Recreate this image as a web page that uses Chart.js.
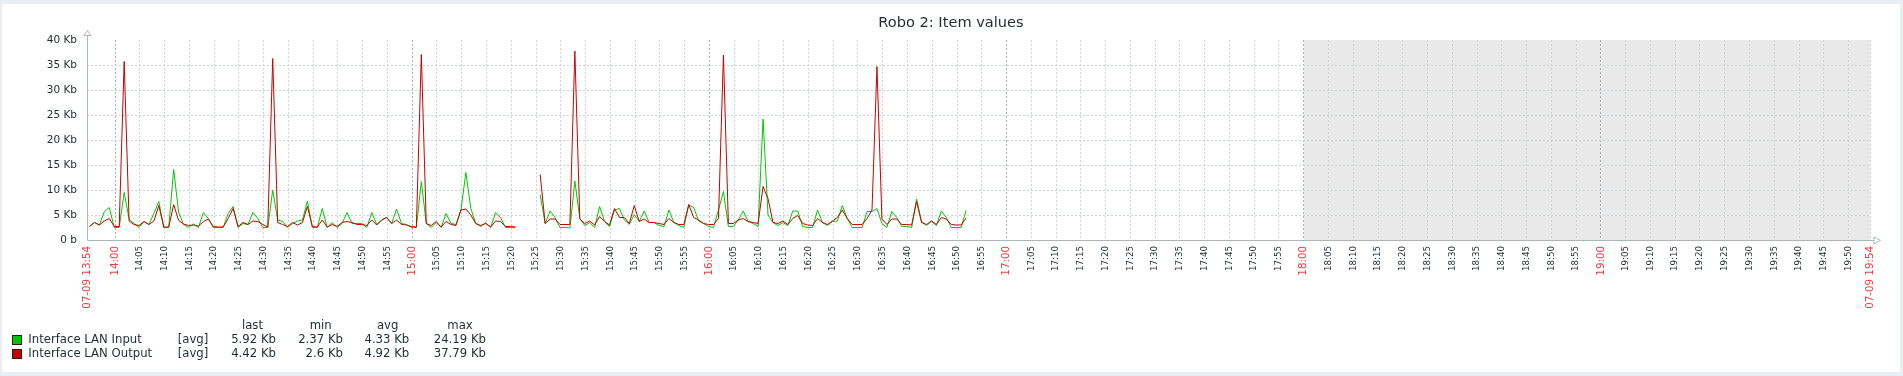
<!DOCTYPE html>
<html lang="en">
<head>
  <meta charset="UTF-8" />
  <title>Robo 2: Item values</title>
  <script src="https://cdn.jsdelivr.net/npm/chart.js"></script>
  <style>
    html, body { margin: 0; padding: 0; }
    body { width: 1903px; height: 376px; background: #ebeef0; position: relative; overflow: hidden;
           font-family: "DejaVu Sans", sans-serif; color: #1f2c33; }
    #panel { position: absolute; left: 2px; top: 4px; width: 1898px; height: 368px; background: #fff; }
    #graph { position: absolute; left: 0; top: 0; }
    .t { position: absolute; white-space: nowrap; line-height: 1; }
    .title { font-size: 14.6px; transform: translateX(-50%); }
    .lg { font-size: 11.7px; }
    .r { transform: translateX(-100%); }
    .c { transform: translateX(-50%); }
    .sq { position: absolute; width: 10px; height: 10px; box-sizing: border-box; border: 1px solid #2a1a1a; }
  </style>
</head>
<body>
  <div id="panel"></div>
  <canvas id="graph" width="1903" height="376"></canvas>
  <div class="t title" style="left:951px; top:15.4px;">Robo 2: Item values</div>
  <div id="legend"></div>

  <script>
    // period 13:54:20 .. 19:54:20, one value per minute (Kb)
    const startMin = 13 * 60 + 54 + 20 / 60;
    const endMin = startMin + 360;
    const firstSample = startMin + 0.5;
    const shadeFrom = 18 * 60;
    const edgeLabels = ['07-09 13:54', '07-09 19:54'];
    const yTicks = [0, 5, 10, 15, 20, 25, 30, 35, 40];

    const inputKb = [
      2.7, 3.5, 3.0, 5.7, 6.5, 2.5, 2.5, 9.5, 4.2, 3.3,
      2.5, 3.7, 3.1, 5.3, 7.7, 2.5, 2.5, 14.1, 5.5, 3.1,
      2.5, 3.2, 2.5, 5.5, 4.3, 2.5, 2.5, 2.5, 5.3, 6.7,
      2.5, 3.3, 3.1, 5.5, 4.3, 2.5, 2.5, 10.0, 4.0, 3.7,
      2.5, 3.3, 3.8, 4.0, 7.8, 2.5, 2.5, 6.3, 2.5, 3.5,
      2.5, 3.3, 5.5, 3.3, 3.3, 3.3, 2.5, 5.5, 3.1, 4.0,
      4.5, 3.3, 6.2, 3.3, 3.1, 2.5, 2.5, 11.7, 3.3, 2.5,
      3.5, 2.5, 5.3, 3.3, 3.1, 6.0, 13.5, 6.3, 3.3, 2.7,
      3.5, 2.5, 5.5, 4.5, 2.5, 2.5, 2.5, null, null, null,
      null, 9.1, 3.3, 5.8, 4.5, 2.5, 2.5, 2.4, 11.8, 4.3,
      2.9, 3.5, 2.5, 6.7, 3.7, 2.7, 6.0, 6.3, 4.0, 3.1,
      5.1, 3.7, 5.8, 3.5, 3.5, 2.9, 2.7, 6.0, 3.5, 2.9,
      2.5, 7.0, 6.5, 3.8, 3.3, 2.7, 2.5, 6.0, 9.7, 2.7,
      2.7, 4.0, 5.8, 3.7, 3.3, 2.7, 24.19, 5.0, 3.5, 2.9,
      3.5, 2.9, 5.8, 5.8, 2.7, 2.5, 2.5, 6.0, 3.5, 2.9,
      3.7, 3.8, 6.9, 4.3, 2.5, 2.5, 2.5, 5.7, 5.7, 6.3,
      3.3, 2.5, 5.7, 4.5, 2.7, 2.7, 2.5, 8.2, 3.7, 2.9,
      3.7, 2.9, 5.8, 4.5, 2.5, 2.5, 2.5, 5.92
    ];

    const outputKb = [
      2.7, 3.5, 3.0, 3.8, 4.3, 2.7, 2.7, 35.7, 3.8, 3.1,
      2.9, 3.7, 3.1, 3.8, 6.9, 2.6, 2.6, 7.1, 3.9, 3.2,
      2.9, 3.0, 2.8, 3.7, 4.2, 2.7, 2.6, 2.6, 4.3, 6.3,
      2.7, 3.5, 3.1, 3.8, 3.7, 3.1, 2.6, 36.3, 3.5, 3.1,
      2.7, 3.5, 3.0, 3.5, 6.7, 2.7, 2.6, 4.0, 2.6, 3.1,
      2.7, 3.5, 3.7, 3.5, 3.1, 3.1, 2.9, 4.0, 3.0, 4.0,
      4.5, 3.3, 4.0, 3.1, 3.0, 2.7, 2.6, 37.1, 3.3, 2.9,
      3.7, 2.6, 3.7, 3.1, 2.9, 6.0, 6.2, 5.0, 3.3, 2.9,
      3.3, 2.6, 3.8, 3.7, 2.7, 2.7, 2.6, null, null, null,
      null, 13.1, 3.3, 4.2, 4.2, 3.1, 3.1, 3.1, 37.79, 4.2,
      3.3, 3.8, 3.0, 4.7, 3.7, 3.0, 6.3, 4.5, 4.5, 3.3,
      6.9, 3.7, 4.2, 3.5, 3.5, 3.3, 3.1, 4.3, 3.5, 3.1,
      3.1, 7.1, 4.5, 4.0, 3.3, 3.1, 3.1, 4.3, 37.0, 3.3,
      3.3, 4.0, 4.3, 3.7, 3.5, 3.3, 10.7, 8.3, 3.5, 3.3,
      3.8, 3.1, 4.3, 4.9, 3.3, 3.0, 2.9, 4.3, 3.5, 3.1,
      3.8, 4.5, 6.0, 4.3, 3.1, 3.1, 3.1, 4.3, 6.0, 34.7,
      4.2, 3.1, 4.2, 4.2, 3.1, 3.1, 3.0, 7.7, 3.5, 3.1,
      3.8, 3.1, 4.5, 4.2, 3.1, 3.0, 3.0, 4.42
    ];

    const seriesNames = ['Interface LAN Input', 'Interface LAN Output'];
    const seriesColors = ['#00c800', '#c80000'];
    const legendHead = ['last', 'min', 'avg', 'max'];
    const legendValues = [
      ['5.92 Kb', '2.37 Kb', '4.33 Kb', '24.19 Kb'],
      ['4.42 Kb', '2.6 Kb', '4.92 Kb', '37.79 Kb']
    ];

    // legend (html text)
    const lg = document.getElementById('legend');
    const headX = [252.5, 320.7, 387.7, 460];
    const colX = [276, 343, 409.3, 486];
    const rowTop = [334.4, 348.4];
    let html = '';
    legendHead.forEach((h, i) => {
      html += `<div class="t lg c" style="left:${headX[i]}px; top:320.1px;">${h}</div>`;
    });
    seriesNames.forEach((n, r) => {
      html += `<div class="sq" style="left:12px; top:${rowTop[r] + 0.8}px; background:${seriesColors[r]};"></div>`;
      html += `<div class="t lg" style="left:28.3px; top:${rowTop[r]}px;">${n}</div>`;
      html += `<div class="t lg" style="left:177.7px; top:${rowTop[r]}px;">[avg]</div>`;
      legendValues[r].forEach((v, i) => {
        html += `<div class="t lg r" style="left:${colX[i]}px; top:${rowTop[r]}px;">${v}</div>`;
      });
    });
    lg.innerHTML = html;

    const toPoints = arr => arr.map((v, i) => ({ x: firstSample + i, y: v }));
    const isMajor = v => Math.abs(v - startMin) < 0.01 || Math.abs(v - endMin) < 0.01 || Math.round(v) % 60 === 0;
    const tickLabel = v => {
      if (Math.abs(v - startMin) < 0.01) return edgeLabels[0];
      if (Math.abs(v - endMin) < 0.01) return edgeLabels[1];
      const m = Math.round(v);
      return String(Math.floor(m / 60)).padStart(2, '0') + ':' + String(m % 60).padStart(2, '0');
    };

    const axisColor = '#aab5bc';
    const frame = {
      id: 'frame',
      beforeDraw(chart) {
        const { ctx, chartArea: a, scales: { x } } = chart;
        const x0 = Math.round(x.getPixelForValue(shadeFrom));
        ctx.save();
        ctx.fillStyle = '#e9e9e9';
        ctx.fillRect(x0, a.top, a.right - x0, a.bottom - a.top);
        ctx.restore();
      },
      afterDraw(chart) {
        const { ctx, chartArea: a } = chart;
        const xl = a.left + 0.5, yb = a.bottom + 0.5;
        ctx.save();
        ctx.strokeStyle = axisColor;
        ctx.lineWidth = 1;
        ctx.beginPath();
        ctx.moveTo(xl, yb); ctx.lineTo(xl, a.top - 5);
        ctx.moveTo(xl, yb); ctx.lineTo(a.right + 4, yb);
        ctx.stroke();
        ctx.fillStyle = '#fff';
        ctx.beginPath();
        ctx.moveTo(xl, a.top - 9.5); ctx.lineTo(xl - 3.5, a.top - 4.5); ctx.lineTo(xl + 3.5, a.top - 4.5); ctx.closePath();
        ctx.fill(); ctx.stroke();
        ctx.beginPath();
        ctx.moveTo(a.right + 10.5, yb); ctx.lineTo(a.right + 4, yb - 3.5); ctx.lineTo(a.right + 4, yb + 3.5); ctx.closePath();
        ctx.fill(); ctx.stroke();
        ctx.restore();
      }
    };

    new Chart(document.getElementById('graph'), {
      type: 'line',
      data: {
        datasets: [
          { label: seriesNames[0], data: toPoints(inputKb), borderColor: seriesColors[0], order: 1 },
          { label: seriesNames[1], data: toPoints(outputKb), borderColor: seriesColors[1], order: 0 }
        ]
      },
      options: {
        responsive: false,
        devicePixelRatio: 1,
        animation: false,
        events: [],
        spanGaps: false,
        elements: {
          line: { borderWidth: 1, tension: 0, fill: false },
          point: { radius: 0 }
        },
        layout: { padding: { left: 0, top: 40, right: 33, bottom: 36 } },
        plugins: { legend: { display: false }, tooltip: { enabled: false }, title: { display: false } },
        scales: {
          x: {
            type: 'linear',
            min: startMin,
            max: endMin,
            afterBuildTicks: s => {
              const t = [{ value: startMin }];
              for (let m = 14 * 60; m < endMin - 1; m += 5) t.push({ value: m });
              t.push({ value: endMin });
              s.ticks = t;
            },
            afterFit: s => { s.height = 100; },
            border: { display: false, dash: [2, 2] },
            grid: {
              drawTicks: false,
              lineWidth: 1,
              color: c => {
                if (!c.tick) return '#ccd4d8';
                if (Math.abs(c.tick.value - startMin) < 0.01) return 'rgba(0,0,0,0)';
                if (Math.round(c.tick.value) % 60 === 0 && Math.abs(c.tick.value - endMin) > 0.01) return '#a4b2ba';
                return '#ccd4d8';
              }
            },
            ticks: {
              autoSkip: false,
              minRotation: 90,
              maxRotation: 90,
              padding: 6,
              callback: v => tickLabel(v),
              font: c => ({ family: 'DejaVu Sans', size: (c.tick && isMajor(c.tick.value)) ? 10.3 : 8.7 }),
              color: c => (c.tick && isMajor(c.tick.value)) ? '#ee3b3b' : '#1f2c33'
            }
          },
          y: {
            min: 0,
            max: 40,
            afterBuildTicks: s => { s.ticks = yTicks.map(v => ({ value: v })); },
            afterFit: s => { s.width = 87; },
            border: { display: false, dash: [2, 2] },
            grid: {
              drawTicks: false,
              lineWidth: 1,
              color: c => (c.tick && (c.tick.value === 0 || c.tick.value === 40)) ? 'rgba(0,0,0,0)' : '#ccd4d8'
            },
            ticks: {
              padding: 10,
              color: '#1f2c33',
              font: { family: 'DejaVu Sans', size: 10.5 },
              callback: v => v === 0 ? '0 b' : v + ' Kb'
            }
          }
        }
      },
      plugins: [frame]
    });
  </script>
</body>
</html>
